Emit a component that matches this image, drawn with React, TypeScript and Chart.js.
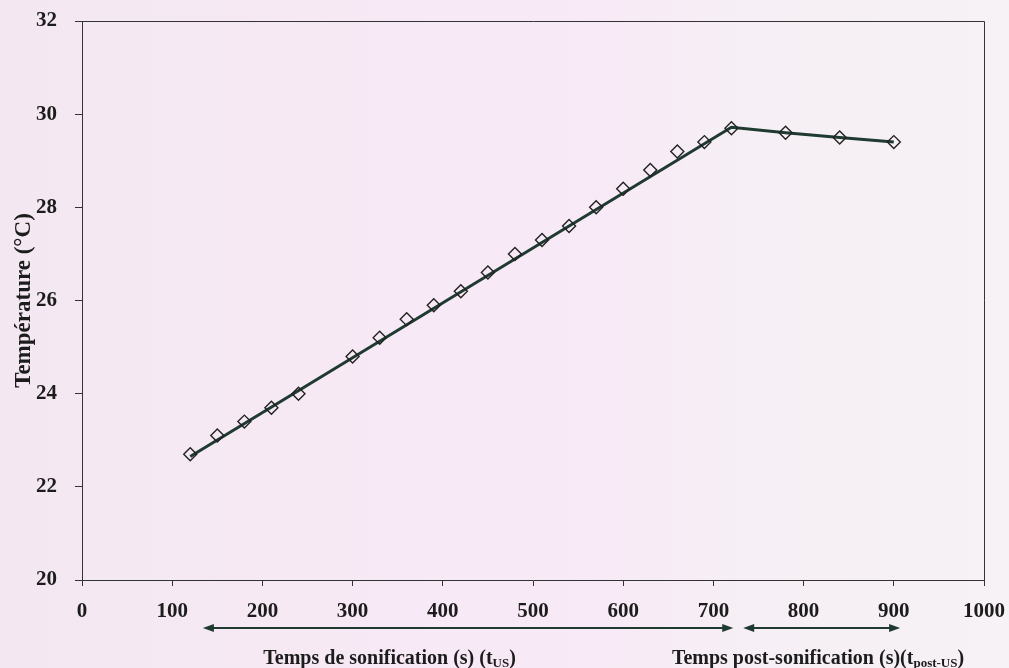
import React, { useEffect, useRef } from "react";
import { Chart, registerables } from "chart.js";

Chart.register(...registerables);

// Measured points (time in s, temperature in °C)
const measTime = [120, 150, 180, 210, 240, 300, 330, 360, 390, 420, 450, 480, 510, 540, 570, 600, 630, 660, 690, 720, 780, 840, 900];
const measTemp = [22.7, 23.1, 23.4, 23.7, 24.0, 24.8, 25.2, 25.6, 25.9, 26.2, 26.6, 27.0, 27.3, 27.6, 28.0, 28.4, 28.8, 29.2, 29.4, 29.7, 29.6, 29.5, 29.4];

// Fitted / connecting line (linear fit during sonication, then post-sonification segments)
const lineTime = [120, 720, 780, 840, 900];
const lineTemp = [22.65, 29.72, 29.6, 29.5, 29.4];

const yTicks = [20, 22, 24, 26, 28, 30, 32];
const xTicks = [0, 100, 200, 300, 400, 500, 600, 700, 800, 900, 1000];

// Annotation arrows (in data units of x)
const arrowUS = [134, 722];
const arrowPost = [733, 907];
const labelUS = { x: 341, main: "Temps de sonification (s) (t", sub: "US", end: ")" };
const labelPost = { x: 816, main: "Temps post-sonification (s)(t", sub: "post-US", end: ")" };

const FONT = '"Liberation Serif", "Times New Roman", serif';
const INK = "#1c1c1c";
const LINE = "#1f3a30";

function drawArrow(ctx: CanvasRenderingContext2D, x1: number, x2: number, y: number) {
  ctx.save();
  ctx.strokeStyle = LINE;
  ctx.fillStyle = LINE;
  ctx.lineWidth = 2;
  ctx.beginPath();
  ctx.moveTo(x1 + 6, y);
  ctx.lineTo(x2 - 6, y);
  ctx.stroke();
  const head = (x: number, dir: number) => {
    ctx.beginPath();
    ctx.moveTo(x, y);
    ctx.lineTo(x - dir * 11, y - 4);
    ctx.lineTo(x - dir * 11, y + 4);
    ctx.closePath();
    ctx.fill();
  };
  head(x1, -1);
  head(x2, 1);
  ctx.restore();
}

function drawSubLabel(ctx: CanvasRenderingContext2D, cx: number, y: number, l: { main: string; sub: string; end: string }) {
  ctx.save();
  ctx.fillStyle = INK;
  ctx.textBaseline = "alphabetic";
  ctx.textAlign = "left";
  const big = `bold 20px ${FONT}`;
  const small = `bold 13px ${FONT}`;
  ctx.font = big;
  const w1 = ctx.measureText(l.main).width;
  const w3 = ctx.measureText(l.end).width;
  ctx.font = small;
  const w2 = ctx.measureText(l.sub).width;
  let x = cx - (w1 + w2 + w3) / 2;
  ctx.font = big;
  ctx.fillText(l.main, x, y);
  x += w1;
  ctx.font = small;
  ctx.fillText(l.sub, x, y + 3);
  x += w2;
  ctx.font = big;
  ctx.fillText(l.end, x, y);
  ctx.restore();
}

const annotations = {
  id: "annotations",
  afterDraw(chart: any) {
    const { ctx, chartArea } = chart;
    const xs = chart.scales.x;
    ctx.save();
    ctx.strokeStyle = "#333";
    ctx.lineWidth = 1;
    ctx.beginPath();
    ctx.moveTo(chartArea.left, chartArea.top + 0.5);
    ctx.lineTo(chartArea.right + 0.5, chartArea.top + 0.5);
    ctx.lineTo(chartArea.right + 0.5, chartArea.bottom);
    ctx.stroke();
    ctx.restore();
    const ay = chartArea.bottom + 48;
    drawArrow(ctx, xs.getPixelForValue(arrowUS[0]), xs.getPixelForValue(arrowUS[1]), ay);
    drawArrow(ctx, xs.getPixelForValue(arrowPost[0]), xs.getPixelForValue(arrowPost[1]), ay);
    const ly = chartArea.bottom + 84;
    drawSubLabel(ctx, xs.getPixelForValue(labelUS.x), ly, labelUS);
    drawSubLabel(ctx, xs.getPixelForValue(labelPost.x), ly, labelPost);
  },
};

export default function App() {
  const ref = useRef<HTMLCanvasElement | null>(null);
  useEffect(() => {
    if (!ref.current) return;
    const chart = new Chart(ref.current, {
      type: "scatter",
      data: {
        datasets: [
          {
            type: "line",
            data: lineTime.map((t, i) => ({ x: t, y: lineTemp[i] })),
            borderColor: LINE,
            borderWidth: 3,
            pointRadius: 0,
            fill: false,
            tension: 0,
            order: 2,
          },
          {
            type: "scatter",
            data: measTime.map((t, i) => ({ x: t, y: measTemp[i] })),
            pointStyle: "rectRot",
            pointRadius: 6.5,
            pointBorderWidth: 1.4,
            pointBorderColor: "#222",
            pointBackgroundColor: "rgba(0,0,0,0)",
            order: 1,
          },
        ],
      },
      options: {
        animation: false,
        responsive: false,
        maintainAspectRatio: false,
        layout: { padding: { top: 21, right: 25, bottom: 0, left: 0 } },
        plugins: { legend: { display: false }, tooltip: { enabled: false } },
        scales: {
          x: {
            type: "linear",
            min: 0,
            max: 1000,
            afterBuildTicks: (s: any) => {
              s.ticks = xTicks.map((v) => ({ value: v }));
            },
            afterFit: (s: any) => {
              s.height = 88;
              s.paddingLeft = 0;
              s.paddingRight = 0;
            },
            grid: { drawOnChartArea: false, tickLength: 6, color: "#333" },
            border: { color: "#333", width: 1 },
            ticks: {
              color: INK,
              padding: 13,
              maxRotation: 0,
              callback: (v: any) => String(v),
              font: { family: FONT, size: 21, weight: "bold" },
            },
          },
          y: {
            type: "linear",
            min: 20,
            max: 32,
            afterBuildTicks: (s: any) => {
              s.ticks = yTicks.map((v) => ({ value: v }));
            },
            afterFit: (s: any) => {
              s.width = 82;
              s.paddingTop = 0;
              s.paddingBottom = 0;
            },
            grid: { drawOnChartArea: false, tickLength: 7, color: "#333" },
            border: { color: "#333", width: 1 },
            ticks: {
              color: INK,
              padding: 18,
              callback: (v: any) => String(v),
              font: { family: FONT, size: 21, weight: "bold" },
            },
            title: {
              display: true,
              text: "Température (°C)",
              color: INK,
              padding: { top: 10, bottom: 0 },
              font: { family: FONT, size: 23, weight: "bold" },
            },
          },
        },
      },
      plugins: [annotations],
    } as any);
    return () => chart.destroy();
  }, []);
  return (
    <div
      style={{
        position: "fixed",
        left: 0,
        top: 0,
        width: 1009,
        height: 668,
        background: "linear-gradient(90deg, #f3e8f1 0%, #f6e9f4 30%, #f8e9f7 55%, #f6eff5 75%, #f6f2f5 100%)",
      }}
    >
      <canvas ref={ref} width={1009} height={668} style={{ display: "block" }} />
    </div>
  );
}
